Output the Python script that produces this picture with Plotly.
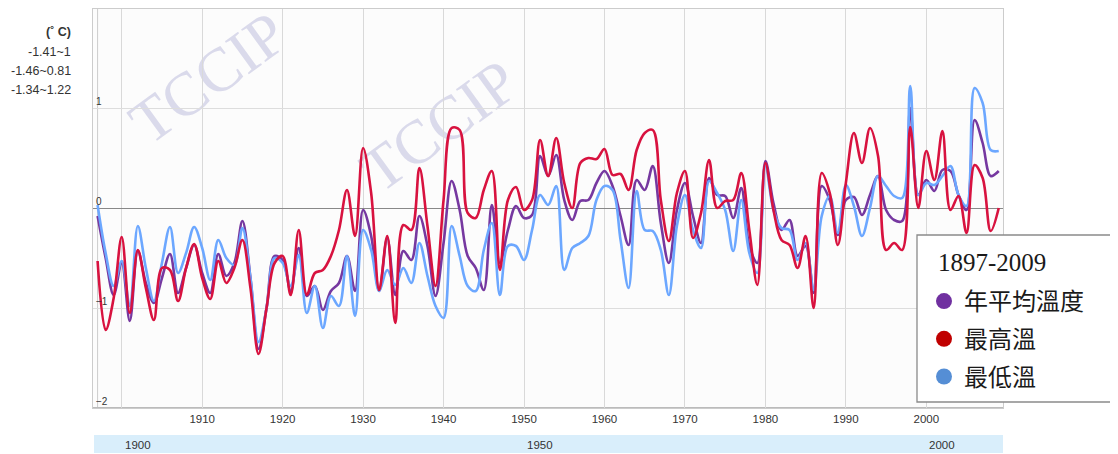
import plotly.graph_objects as go

years = list(range(1897, 2010))

avg_temp = [
    -0.08, -0.50, -0.87, -0.55, -1.13, -0.43, -0.75, -0.95, -0.70, -0.46,
    -0.85, -0.60, -0.37, -0.65, -0.85, -0.46, -0.68, -0.55, -0.13, -0.70,
    -1.41, -1.00, -0.48, -0.52, -0.83, -0.40, -0.88, -0.78, -1.02, -0.83,
    -0.75, -0.48, -0.83, -0.02, -0.28, -0.83, -0.30, -0.87, -0.43, -0.52,
    -0.08, -0.38, -0.88, -0.35, 0.27, -0.02, -0.48, -0.60, -0.82, 0.03,
    -0.55, -0.22, 0.02, -0.10, -0.07, 0.52, 0.32, 0.53, 0.08, -0.12,
    0.07, 0.08, 0.25, 0.37, 0.22, -0.08, -0.37, 0.28, 0.18, 0.42,
    -0.15, -0.55, -0.02, 0.25, -0.08, -0.35, 0.30, 0.13, 0.12, -0.10,
    0.20, -0.38, -0.55, 0.47, 0.05, -0.22, -0.12, -0.48, -0.38, -0.85,
    0.22, 0.08, -0.27, 0.08, 0.11, -0.07, 0.13, 0.32, -0.02, -0.12,
    -0.13, 1.00, 0.13, 0.28, 0.17, 0.38, 0.37, 0.13, -0.02, 0.88,
    0.65, 0.32, 0.37,
]

max_temp = [
    -0.53, -1.22, -0.90, -0.29, -1.05, -0.42, -0.80, -1.12, -0.60, -0.62,
    -0.93, -0.60, -0.36, -0.70, -0.91, -0.53, -0.75, -0.60, -0.32, -0.80,
    -1.46, -1.00, -0.55, -0.48, -0.87, -0.22, -0.87, -0.65, -0.62, -0.48,
    -0.22, 0.18, -0.28, 0.60, 0.15, -0.82, -0.28, -1.15, -0.17, -0.22,
    0.40, -0.18, -0.78, 0.08, 0.80, 0.78, -0.05, -0.10, 0.18, 0.37,
    -0.62, 0.08, 0.21, -0.02, 0.08, 0.68, 0.32, 0.70, 0.25, 0.00,
    0.45, 0.50, 0.49, 0.59, 0.33, 0.34, 0.18, 0.58, 0.75, 0.78,
    0.08, -0.33, 0.15, 0.37, -0.30, -0.05, 0.48, 0.00, 0.07, 0.08,
    0.35, -0.22, -0.77, 0.45, -0.02, -0.32, -0.37, -0.60, -0.28, -1.00,
    0.35, 0.15, -0.37, 0.25, 0.75, 0.45, 0.80, 0.52, -0.42, -0.35,
    -0.42, 0.81, 0.00, 0.57, 0.28, 0.77, -0.02, 0.12, -0.25, 0.43,
    0.30, -0.23, 0.00,
]

min_temp = [
    0.03, -0.45, -0.78, -0.53, -0.98, -0.18, -0.60, -0.93, -0.55, -0.19,
    -0.65, -0.45, -0.19, -0.40, -0.72, -0.32, -0.50, -0.57, -0.20, -0.70,
    -1.34, -1.00, -0.50, -0.55, -0.78, -0.47, -1.05, -0.78, -1.20, -0.88,
    -0.98, -0.48, -1.08, -0.22, -0.42, -0.83, -0.62, -0.77, -0.60, -0.75,
    -0.35, -0.68, -0.98, -1.10, -0.18, -0.48, -0.78, -0.83, -0.42, -0.15,
    -0.87, -0.38, -0.38, -0.52, -0.22, 0.13, 0.03, 0.22, -0.62, -0.40,
    -0.35, -0.28, 0.08, 0.22, 0.18, -0.32, -0.80, 0.17, -0.22, -0.23,
    -0.42, -0.87, -0.18, 0.13, -0.22, -0.40, 0.27, 0.15, -0.02, -0.43,
    0.08, -0.45, -0.65, 0.42, -0.02, -0.20, -0.22, -0.52, -0.35, -0.82,
    -0.08, 0.12, -0.25, 0.23, 0.02, -0.28, 0.00, 0.32, 0.22, 0.12,
    0.10, 1.22, 0.13, 0.25, 0.23, 0.32, 0.42, 0.13, 0.02, 1.20,
    1.05, 0.58, 0.57,
]

series_names = ["年平均溫度", "最高溫", "最低溫"]
line_colors = {"年平均溫度": "#7638A0", "最高溫": "#D8123F", "最低溫": "#6CA7FF"}
legend_colors = {"年平均溫度": "#7030A0", "最高溫": "#C00000", "最低溫": "#558ED5"}
range_labels = ["-1.41~1", "-1.46~0.81", "-1.34~1.22"]
unit_label = "<b>(˚ C)</b>"
legend_title = "1897-2009"

x_tick_vals = list(range(1900, 2001, 10))
x_tick_text = [""] + [str(v) for v in range(1910, 2001, 10)]
y_tick_vals = [-2, -1, 0, 1]
nav_ticks = [1900, 1950, 2000]
watermark = "TCCIP"

series = {"年平均溫度": avg_temp, "最高溫": max_temp, "最低溫": min_temp}

fig = go.Figure()
for name in ["年平均溫度", "最低溫", "最高溫"]:
    fig.add_trace(go.Scatter(
        x=years, y=series[name], mode="lines", name=name,
        line=dict(color=line_colors[name], width=2.6, shape="spline", smoothing=1.0),
        showlegend=False, hoverinfo="x+y",
    ))
for i, name in enumerate(series_names):
    fig.add_trace(go.Scatter(
        x=[None], y=[None], mode="markers", name=name,
        marker=dict(size=16, color=legend_colors[name]),
        legendgroup="g%d" % i, showlegend=True,
    ))

# page body has an 8px margin; lay out in screenshot pixels and offset
OFF = 8
SW, SH = 1118, 454
PL, PR, PT, PB = 93, 1003, 9, 408   # plot area in screenshot pixels
W, H = SW - OFF, SH - OFF
L, T = PL - OFF, PT - OFF
R, B = W - (PR - OFF), H - (PB - OFF)
pw, ph = PR - PL, PB - PT

def px_x(p):
    return (p - PL) / pw

def px_y(p):
    return (PB - p) / ph

shapes = []
shapes.append(dict(type="rect", xref="paper", yref="paper",
                   x0=px_x(917), x1=px_x(1117), y0=px_y(402), y1=px_y(235),
                   line=dict(color="#8a8a8a", width=1.3), fillcolor="white", layer="above"))
shapes.append(dict(type="line", xref="x", yref="paper", x0=years[0], x1=years[0], y0=0, y1=1,
                   line=dict(color="#cccccc", width=1), layer="below"))
shapes.append(dict(type="line", xref="paper", yref="paper", x0=0, x1=1, y0=0, y1=0,
                   line=dict(color="#bbbbbb", width=2), layer="below"))
shapes.append(dict(type="rect", xref="paper", yref="paper",
                   x0=px_x(94), x1=px_x(1003), y0=px_y(453), y1=px_y(435),
                   line=dict(width=0), fillcolor="#D9EEFB", layer="below"))
for cx, cy in [(204, 72), (435, 120)]:
    shapes.append(dict(type="rect", xref="paper", yref="paper",
                       x0=px_x(cx - 5), x1=px_x(cx + 5), y0=px_y(cy + 5), y1=px_y(cy - 5),
                       line=dict(width=0), fillcolor="rgba(0,0,0,0)", layer="below",
                       label=dict(text=watermark, textangle=-36, textposition="middle center",
                                  font=dict(family="Liberation Serif", size=62, color="#DADAEB"))))

annotations = []
ann_rows = [unit_label] + range_labels
ann_ys = [32, 52, 71, 90]
for txt, yy in zip(ann_rows, ann_ys):
    annotations.append(dict(text=txt, xref="paper", yref="paper", x=px_x(73), y=px_y(yy),
                            xanchor="right", yanchor="middle", showarrow=False,
                            font=dict(family="Liberation Sans", size=12.5, color="#333333")))
for v in nav_ticks:
    annotations.append(dict(text=str(v), xref="x", yref="paper", x=v, y=px_y(445),
                            xanchor="left", yanchor="middle", xshift=1, showarrow=False,
                            font=dict(family="Liberation Sans", size=11.5, color="#333333")))
# legend heading
annotations.append(dict(text=legend_title, xref="paper", yref="paper", x=px_x(936), y=px_y(262),
                        xanchor="left", yanchor="middle", showarrow=False,
                        font=dict(family="Liberation Serif", size=25, color="#1a1a1a")))

fig.update_layout(
    width=W, height=H,
    margin=dict(l=L, r=R, t=T, b=B),
    paper_bgcolor="white", plot_bgcolor="#FCFCFC",
    shapes=shapes, annotations=annotations,
    showlegend=True,
    legend=dict(x=px_x(924), y=px_y(279), xanchor="left", yanchor="top",
                bgcolor="rgba(0,0,0,0)", borderwidth=0,
                font=dict(family="Noto Sans CJK TC", size=24, color="#1a1a1a"),
                itemwidth=30, traceorder="grouped", tracegroupgap=3.5),
    xaxis=dict(range=[1896.43, 2009.53], tickvals=x_tick_vals, ticktext=x_tick_text,
               showgrid=True, gridcolor="#d9d9d9", gridwidth=1, zeroline=False,
               showline=True, linecolor="#cccccc", mirror=True, ticks="",
               tickfont=dict(family="Liberation Sans", size=11.5, color="#333333")),
    yaxis=dict(range=[-2.0, 1.99], tickvals=y_tick_vals, showgrid=True, gridcolor="#dddddd",
               zeroline=True, zerolinecolor="#888888", zerolinewidth=1,
               showline=True, linecolor="#cccccc", mirror=True, ticks="",
               ticklabelposition="inside", ticklabelshift=-7, ticklabelstandoff=2,
               tickfont=dict(family="Liberation Sans", size=10, color="#333333")),
)

fig.write_html("out.html")
